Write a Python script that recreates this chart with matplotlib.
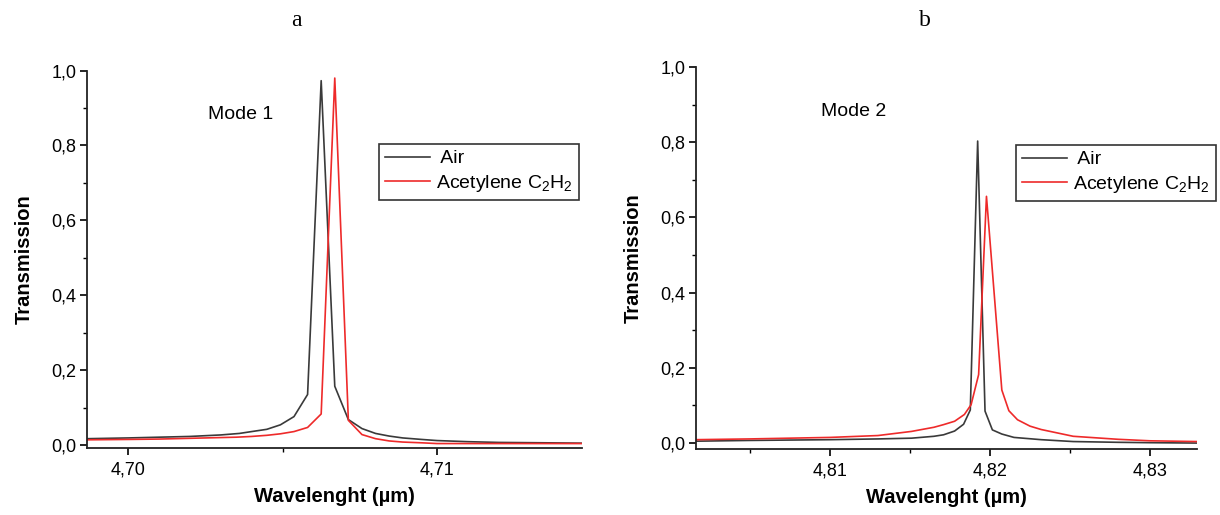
import numpy as np
import matplotlib
matplotlib.use('Agg')
import matplotlib.pyplot as plt
from matplotlib.ticker import FixedLocator, FuncFormatter

plt.rcParams['font.family'] = ['Liberation Sans', 'DejaVu Sans']

# Mode 1 spectra
wl_a_air = [4.69868, 4.7000, 4.7010, 4.7020, 4.7030, 4.7036, 4.7040, 4.70449, 4.70493,
            4.70537, 4.70581, 4.70625, 4.70669, 4.70713, 4.70757, 4.70801, 4.70845,
            4.70889, 4.7095, 4.7100, 4.7110, 4.7120, 4.7135, 4.71470]
tr_a_air = [0.017, 0.019, 0.021, 0.023, 0.027, 0.031, 0.036, 0.042, 0.054,
            0.076, 0.135, 0.973, 0.157, 0.068, 0.044, 0.031, 0.024,
            0.019, 0.015, 0.012, 0.009, 0.007, 0.006, 0.005]
wl_a_c2h2 = [4.69868, 4.7000, 4.7010, 4.7020, 4.7035, 4.7040, 4.70449, 4.70493, 4.70537,
             4.70581, 4.70625, 4.70669, 4.70713, 4.70757, 4.70801, 4.70845, 4.70889,
             4.7095, 4.7100, 4.7120, 4.71470]
tr_a_c2h2 = [0.014, 0.015, 0.016, 0.018, 0.021, 0.023, 0.026, 0.030, 0.036,
             0.047, 0.083, 0.980, 0.066, 0.028, 0.017, 0.011, 0.008,
             0.006, 0.004, 0.004, 0.004]

# Mode 2 spectra
wl_b_air = [4.80160, 4.8050, 4.8100, 4.8130, 4.8151, 4.8165, 4.8171, 4.81779, 4.81835,
            4.81877, 4.81923, 4.81969, 4.82015, 4.82074, 4.8215, 4.8232, 4.8252,
            4.8280, 4.8300, 4.83295]
tr_b_air = [0.005, 0.007, 0.009, 0.011, 0.013, 0.018, 0.022, 0.032, 0.050,
            0.088, 0.803, 0.085, 0.035, 0.024, 0.015, 0.009, 0.004,
            0.002, 0.001, 0.000]
wl_b_c2h2 = [4.80160, 4.8050, 4.8100, 4.8130, 4.8151, 4.8165, 4.8171, 4.81779, 4.81840,
             4.81882, 4.81929, 4.81978, 4.82074, 4.82118, 4.82172, 4.8225, 4.8232,
             4.8252, 4.8280, 4.8300, 4.83295]
tr_b_c2h2 = [0.009, 0.011, 0.015, 0.020, 0.031, 0.042, 0.049, 0.058, 0.076,
             0.102, 0.182, 0.656, 0.141, 0.086, 0.062, 0.045, 0.036,
             0.018, 0.010, 0.006, 0.004]

ticks_a = [4.70, 4.71]
ticks_b = [4.81, 4.82, 4.83]

c_air = '#3a3a3a'
c_gas = '#ee2a2a'
label_gas = 'Acetylene C$_\\mathregular{2}$H$_\\mathregular{2}$'

fig = plt.figure(figsize=(12.2, 5.15), dpi=100)
ax1 = fig.add_axes([0.0713, 0.130, 0.4057, 0.733])
ax2 = fig.add_axes([0.5705, 0.128, 0.4107, 0.742])

comma = FuncFormatter(lambda v, p: ('%.2f' % v).replace('.', ','))
comma1 = FuncFormatter(lambda v, p: ('%.1f' % v).replace('.', ','))


def style(ax, xlim, ylim, xt, xminor):
    ax.set_xlim(*xlim)
    ax.set_ylim(*ylim)
    for s in ['top', 'right']:
        ax.spines[s].set_visible(False)
    for s in ['left', 'bottom']:
        ax.spines[s].set_linewidth(1.3)
        ax.spines[s].set_color('#222222')
    ax.xaxis.set_major_locator(FixedLocator(xt))
    ax.xaxis.set_minor_locator(FixedLocator(xminor))
    ax.yaxis.set_major_locator(FixedLocator([0, 0.2, 0.4, 0.6, 0.8, 1.0]))
    ax.yaxis.set_minor_locator(FixedLocator([0.1, 0.3, 0.5, 0.7, 0.9]))
    ax.xaxis.set_major_formatter(comma)
    ax.yaxis.set_major_formatter(comma1)
    ax.tick_params(which='major', direction='out', length=5, width=1.2, labelsize=13, pad=5)
    ax.tick_params(axis='y', which='major', pad=2.5)
    ax.tick_params(which='minor', direction='out', length=3, width=1.0)
    ax.set_ylabel('Transmission', fontsize=14.5, fontweight='bold', labelpad=13)
    ax.set_xlabel('Wavelenght (µm)', fontsize=14.5, fontweight='bold', labelpad=6)


ax1.plot(wl_a_air, tr_a_air, color=c_air, lw=1.2, label=' Air')
ax1.plot(wl_a_c2h2, tr_a_c2h2, color=c_gas, lw=1.2, label=label_gas)
style(ax1, (4.69867, 4.71469), (-0.008, 1.0), ticks_a, [4.705])
ax1.text(4.7026, 0.87, 'Mode 1', fontsize=14)

ax2.plot(wl_b_air, tr_b_air, color=c_air, lw=1.2, label=' Air')
ax2.plot(wl_b_c2h2, tr_b_c2h2, color=c_gas, lw=1.2, label=label_gas)
style(ax2, (4.80163, 4.83294), (-0.016, 1.0), ticks_b, [4.805, 4.815, 4.825])
ax2.text(4.80944, 0.87, 'Mode 2', fontsize=14)

for ax, x0, y0 in [(ax1, 379, 144), (ax2, 1016, 145)]:
    leg = ax.legend(loc='upper left', bbox_to_anchor=(x0 / 1220, 1 - y0 / 515),
                    bbox_transform=fig.transFigure, borderaxespad=0, fancybox=False,
                    fontsize=14, handlelength=2.3, handletextpad=0.35, borderpad=0.3,
                    labelspacing=0.3, framealpha=1)
    leg.get_frame().set_edgecolor('#333333')
    leg.get_frame().set_linewidth(1.2)

fig.text(296 / 1220, 1 - 20 / 515, 'a', fontsize=17, family='Liberation Serif',
         ha='center', va='center')
fig.text(925 / 1220, 1 - 20 / 515, 'b', fontsize=17, family='Liberation Serif',
         ha='center', va='center')

fig.savefig('out.png', dpi=100)
